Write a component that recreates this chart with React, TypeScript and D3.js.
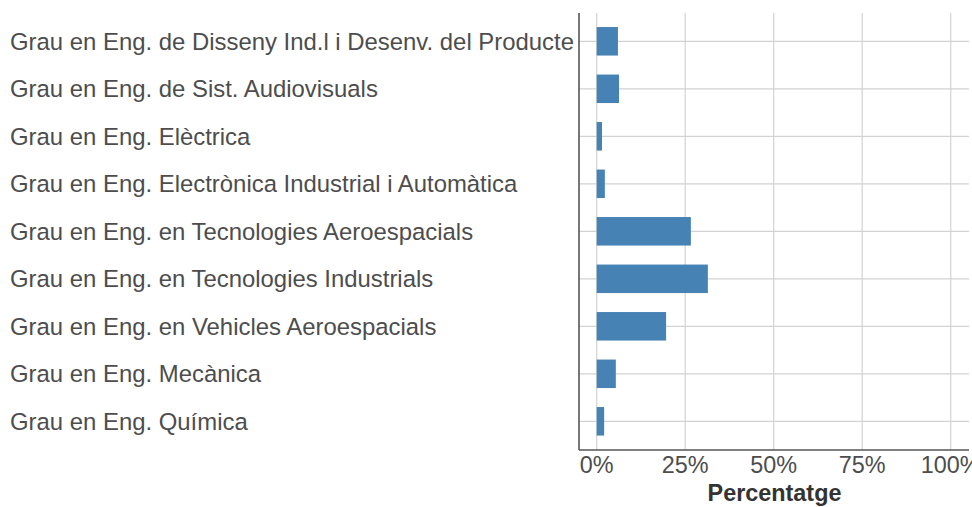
import React from "react";
import * as d3 from "d3";

const categories = [
  "Grau en Eng. de Disseny Ind.l i Desenv. del Producte",
  "Grau en Eng. de Sist. Audiovisuals",
  "Grau en Eng. Elèctrica",
  "Grau en Eng. Electrònica Industrial i Automàtica",
  "Grau en Eng. en Tecnologies Aeroespacials",
  "Grau en Eng. en Tecnologies Industrials",
  "Grau en Eng. en Vehicles Aeroespacials",
  "Grau en Eng. Mecànica",
  "Grau en Eng. Química",
];
const values = [6.0, 6.3, 1.5, 2.3, 26.6, 31.4, 19.6, 5.4, 2.1];
const tickValues = [0, 25, 50, 75, 100];
const xTitle = "Percentatge";

const W = 972;
const H = 507;
const left = 579;
const right = 969;
const top = 13;
const bottom = 450;

export default function App() {
  const x = d3.scaleLinear().domain([0, 100]).range([596.7, 950.7]);
  const y = d3.scaleBand<string>().domain(categories).range([17.55, 445.05]).paddingInner(0.4).paddingOuter(0.2);
  return (
    <svg width={W} height={H} style={{ position: "absolute", left: 0, top: 0, fontFamily: "'Liberation Sans', Arial, sans-serif" }}>
      <rect width={W} height={H} fill="#fff" />
      {tickValues.map((t) => (
        <line key={t} x1={x(t)} x2={x(t)} y1={top} y2={bottom} stroke="#d2d2d2" strokeWidth={1.2} />
      ))}
      {categories.map((c) => {
        const cy = (y(c) as number) + y.bandwidth() / 2;
        return <line key={c} x1={left} x2={right} y1={cy} y2={cy} stroke="#d2d2d2" strokeWidth={1.2} />;
      })}
      {categories.map((c, i) => (
        <rect key={c} x={x(0)} y={y(c) as number} width={x(values[i]) - x(0)} height={y.bandwidth()} fill="#4682b4" />
      ))}
      <line x1={left} x2={left} y1={top} y2={bottom} stroke="#555" strokeWidth={1.6} />
      <line x1={left} x2={right} y1={bottom} y2={bottom} stroke="#555" strokeWidth={1.6} />
      {categories.map((c) => {
        const cy = (y(c) as number) + y.bandwidth() / 2;
        return (
          <text key={c} x={10} y={cy} dy="0.35em" fontSize={23.9} fill="#4d4d4d">{c}</text>
        );
      })}
      {tickValues.map((t) => (
        <text key={t} x={x(t)} y={472.5} textAnchor="middle" fontSize={23.4} fill="#4d4d4d">{t}%</text>
      ))}
      <text x={774.5} y={500.5} textAnchor="middle" fontSize={23.4} fontWeight="bold" fill="#333">{xTitle}</text>
    </svg>
  );
}
